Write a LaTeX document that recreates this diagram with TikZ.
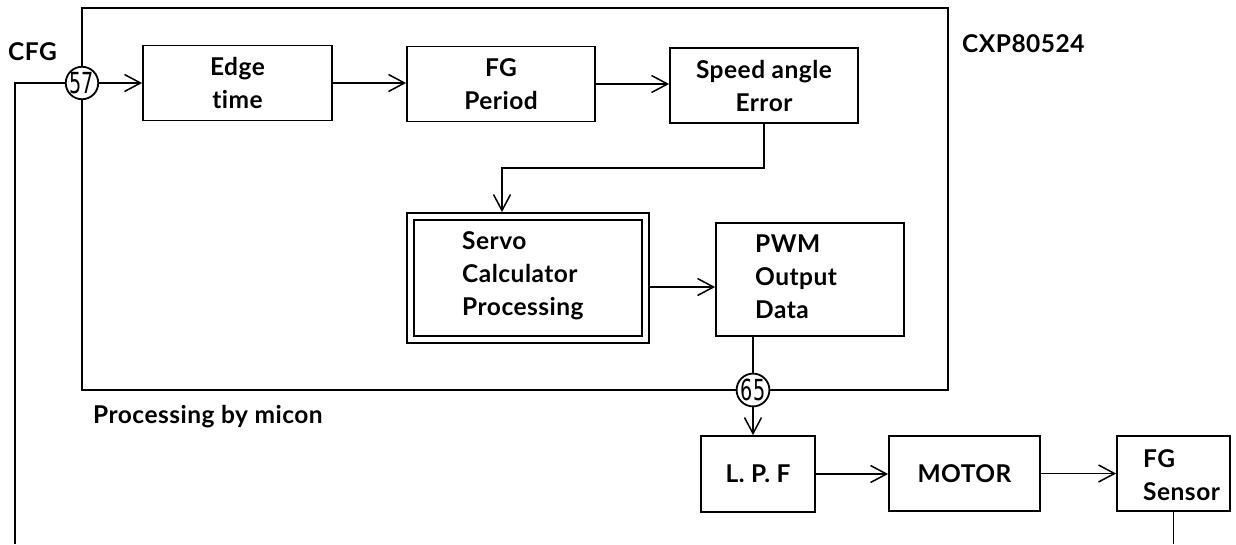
\documentclass[tikz,border=0pt]{standalone}
\usepackage{fontspec}
\usepackage{graphicx}
\setmainfont[Ligatures=NoCommon, LetterSpace=2]{Lato}
\newfontfamily\pinfont{DejaVu Sans}
\usetikzlibrary{arrows.meta}
\tikzset{
  blk/.style={draw, line width=1.8pt, inner sep=0pt, align=center,
    font=\fontsize{24.5}{33}\selectfont\bfseries},
  txt/.style={inner sep=0pt, font=\fontsize{24.5}{33}\selectfont\bfseries},
  conn/.style={line width=1.5pt},
  arr/.style={conn, -{Straight Barb[length=16pt,width=17pt,line width=1.5pt]}},
  pin/.style={circle, draw, fill=white, line width=1.8pt, minimum size=32pt, inner sep=0pt,
    font=\fontsize{29}{29}\selectfont\pinfont},
  frm/.style={draw, line width=2.8pt, inner sep=0pt}
}
\begin{document}
\begin{tikzpicture}[x=1pt, y=-1pt]
\useasboundingbox (0,0) rectangle (1236,544);
% outer frame
\node[frm, minimum width=866pt, minimum height=382pt] (frame) at (515,199) {};
% labels
\node[txt, anchor=west] (cfg) at (8,52) {CFG};
\node[txt, anchor=west] (cxp) at (962,44) {CXP80524};
\node[txt, anchor=west] (micon) at (93,417) {Processing by micon};
% top row
\node[blk, minimum width=189pt, minimum height=75pt] (edge) at (237.5,83) {Edge\\time};
\node[blk, minimum width=188pt, minimum height=75pt] (fgp) at (501,84) {FG\\Period};
\node[blk, minimum width=188pt, minimum height=75pt] (spd) at (764,85.5) {Speed angle\\Error};
% servo double box
\node[draw, line width=1.8pt, minimum width=242pt, minimum height=130pt, inner sep=0pt] (servo) at (528,278) {};
\draw[line width=1.8pt] ([shift={(8,8)}]servo.north west) rectangle ([shift={(-8,-8)}]servo.south east);
\node[txt, anchor=west, align=left] (servoT) at (462,276) {Servo\\Calculator\\Processing};
% PWM
\node[draw, line width=1.8pt, minimum width=188pt, minimum height=113pt, inner sep=0pt] (pwm) at (810,279.5) {};
\node[txt, anchor=west, align=left] (pwmT) at (755,277) {PWM\\Output\\Data};
% bottom row
\node[blk, minimum width=114pt, minimum height=76pt] (lpf) at (758,474) {L. P. F};
\node[blk, minimum width=151pt, minimum height=75pt] (motor) at (964.5,473.5) {MOTOR};
\node[draw, line width=1.8pt, minimum width=113pt, minimum height=75pt, inner sep=0pt] (fgs) at (1173.5,473.5) {};
\node[txt, anchor=west, align=left] (fgsT) at (1143,475) {FG\\Sensor};
% pins
\node[pin] (p57) at (82,83) {\scalebox{0.66}[1]{57}};
\node[pin] (p65) at (753,390) {\scalebox{0.66}[1]{65}};
% connectors
\draw[arr] (p57.east) -- (p57.east -| edge.west);
\draw[arr] (edge.east) -- (edge.east -| fgp.west);
\draw[arr] (fgp.east) -- (fgp.east -| spd.west);
\coordinate (bend) at (502,168);
\draw[arr] (spd.south) |- (bend) -- (bend |- servo.north);
\coordinate (sa) at ([yshift=-9pt]servo.east);
\draw[arr] (sa) -- (sa -| pwm.west);
\draw[conn] (p65 |- pwm.south) -- (p65.north);
\draw[arr] (p65.south) -- (p65.south |- lpf.north);
\draw[arr] (lpf.east) -- (lpf.east -| motor.west);
\draw[arr] (motor.east) -- (motor.east -| fgs.west);
\coordinate (fbR) at (1173,544);
\draw[conn] (fgs.south) -- (fgs.south |- fbR);
\coordinate (fbL) at (15,83);
\coordinate (fbLb) at (15,544);
\draw[conn] (p57.west) -- (fbL) -- (fbLb);
\end{tikzpicture}
\end{document}
